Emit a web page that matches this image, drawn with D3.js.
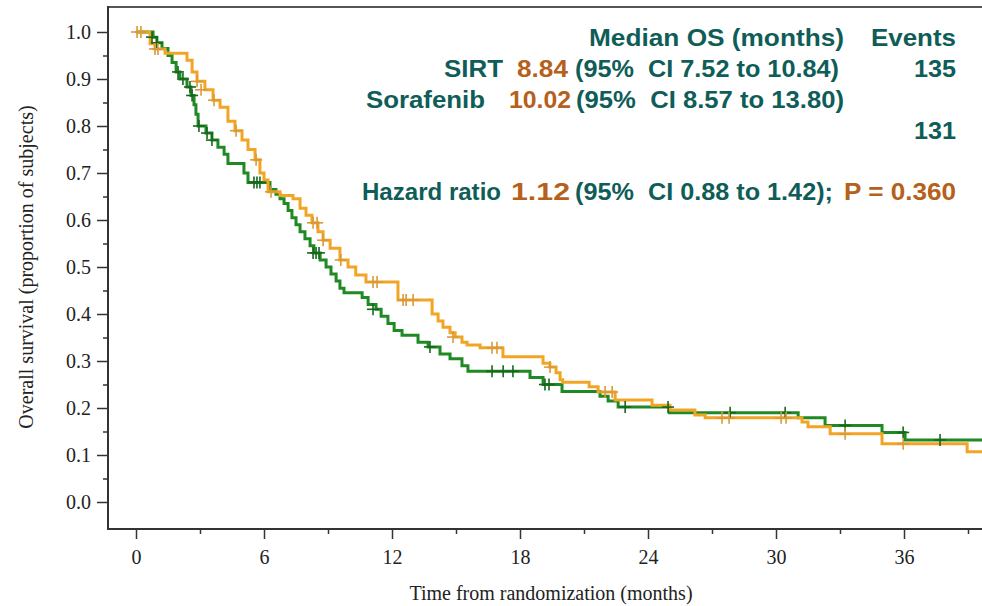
<!DOCTYPE html>
<html>
<head>
<meta charset="utf-8">
<script src="https://cdn.jsdelivr.net/npm/d3@7"></script>
<style>
  html, body { margin: 0; padding: 0; background: #fff; }
  svg { display: block; }
</style>
</head>
<body>
<svg id="chart" width="982" height="606"></svg>
<script>
// ---------------- DATA ----------------
const xMajorTicks = [0, 6, 12, 18, 24, 30, 36];
const xMinorTicks = [3, 9, 15, 21, 27, 33, 39];
const yMajorTicks = [0, 0.1, 0.2, 0.3, 0.4, 0.5, 0.6, 0.7, 0.8, 0.9, 1.0];
const yMinorTicks = [0.05, 0.15, 0.25, 0.35, 0.45, 0.55, 0.65, 0.75, 0.85, 0.95];
const xTitle = "Time from randomization (months)";
const yTitle = "Overall survival (proportion of subjects)";
const maxTime = 39.7;

// Sorafenib (orange) step curve: time (months), survival after the step
const sorafenibTime = [0, 0.66, 0.89, 1.36, 2.39, 2.63, 2.86, 3.23, 3.61, 3.94, 4.31, 4.64, 4.97, 5.25, 5.58, 5.81, 6.0, 6.19,
  6.75, 7.36, 7.69, 7.97, 8.25, 8.53, 8.77, 9.1, 9.56, 9.94, 10.3, 10.78, 12.28, 13.88, 14.16, 14.39, 14.72, 14.96,
  15.28, 15.52, 16.13, 17.2, 19.08, 19.4, 19.69, 19.88, 20.0, 21.24, 21.66, 22.46, 24.19, 25.03, 26.2, 26.68,
  31.22, 31.5, 32.54, 34.97, 38.96];
const sorafenibSurv = [1.0, 0.975, 0.964, 0.955, 0.94, 0.915, 0.895, 0.877, 0.855, 0.84, 0.81, 0.79, 0.77, 0.75, 0.728, 0.70, 0.685, 0.66,
  0.652, 0.645, 0.625, 0.61, 0.594, 0.575, 0.557, 0.54, 0.515, 0.5, 0.483, 0.468, 0.43, 0.40, 0.385, 0.372, 0.36, 0.351,
  0.34, 0.334, 0.328, 0.309, 0.295, 0.287, 0.275, 0.26, 0.255, 0.245, 0.234, 0.217, 0.206, 0.196, 0.185, 0.179,
  0.17, 0.16, 0.145, 0.124, 0.107];
const sorafenibCensorTime = [0.05, 0.23, 0.89, 1.03, 2.86, 3.05, 3.66, 4.69, 5.63, 6.33, 8.3, 8.49, 8.77, 9.6, 11.11, 11.3,
  12.52, 12.66, 12.99, 14.86, 16.69, 16.92, 19.41, 21.99, 22.32, 27.47, 27.8, 30.24, 30.47, 33.24, 35.96];
const sorafenibCensorSurv = [1.0, 1.0, 0.964, 0.964, 0.895, 0.877, 0.855, 0.79, 0.728, 0.66, 0.594, 0.594, 0.557, 0.515, 0.468, 0.468,
  0.43, 0.43, 0.43, 0.351, 0.328, 0.328, 0.287, 0.234, 0.234, 0.179, 0.179, 0.179, 0.179, 0.145, 0.124];

// SIRT (green) step curve
const sirtTime = [0, 0.8, 0.98, 1.22, 1.5, 1.69, 1.88, 2.06, 2.39, 2.58, 2.72, 2.81, 2.91, 3.28, 3.56, 3.84, 4.13, 4.31,
  5.06, 5.25, 6.28, 6.56, 6.75, 6.94, 7.13, 7.31, 7.5, 7.69, 7.92, 8.16, 8.34, 8.63, 8.91, 9.14, 9.38, 9.56, 9.75,
  10.6, 10.88, 11.25, 11.49, 11.81, 12.1, 12.47, 13.22, 13.69, 14.25, 14.72, 15.28, 15.56, 18.47, 19.08, 19.97,
  21.75, 22.13, 22.6, 25.0, 31.04, 32.3, 34.97, 36.05];
const sirtSurv = [1.0, 0.989, 0.977, 0.965, 0.95, 0.935, 0.915, 0.9, 0.883, 0.865, 0.845, 0.825, 0.80, 0.785, 0.77, 0.755, 0.74, 0.72,
  0.70, 0.68, 0.665, 0.655, 0.645, 0.635, 0.62, 0.605, 0.59, 0.575, 0.56, 0.545, 0.53, 0.515, 0.5, 0.485, 0.47, 0.455, 0.445,
  0.435, 0.42, 0.41, 0.395, 0.38, 0.365, 0.355, 0.34, 0.33, 0.315, 0.305, 0.29, 0.278, 0.265, 0.25, 0.235,
  0.225, 0.215, 0.202, 0.19, 0.179, 0.163, 0.148, 0.132];
const sirtCensorTime = [0.75, 0.98, 1.97, 2.2, 2.53, 2.63, 2.95, 3.33, 3.56, 5.53, 5.67, 5.81, 8.3, 8.44, 8.58, 11.11, 13.78,
  16.69, 17.21, 17.67, 19.17, 19.36, 22.93, 24.94, 27.85, 30.43, 33.24, 35.96, 37.69];
const sirtCensorSurv = [0.989, 0.977, 0.915, 0.9, 0.883, 0.865, 0.80, 0.785, 0.77, 0.68, 0.68, 0.68, 0.53, 0.53, 0.53, 0.41, 0.33,
  0.278, 0.278, 0.278, 0.25, 0.25, 0.202, 0.202, 0.19, 0.19, 0.163, 0.148, 0.132];

// Annotation text
const headerMedian = "Median OS (months)";
const headerEvents = "Events";
const groupNames = ["SIRT", "Sorafenib"];
const groupMedians = ["8.84", "10.02"];
const groupCIs = ["(95%\u00a0 CI 7.52 to 10.84)", "(95%\u00a0 CI 8.57 to 13.80)"];
const groupEvents = ["135", "131"];
const hrLabel = "Hazard ratio";
const hrValue = "1.12";
const hrCI = "(95%\u00a0 CI 0.88 to 1.42);";
const pValue = "P = 0.360";

// ---------------- DRAW ----------------
const svg = d3.select("#chart");
const W = 982, H = 606;
const plotLeft = 108, plotTop = 7, plotBottom = 529;

const x = d3.scaleLinear().domain([0, 36]).range([136, 904]);
const y = d3.scaleLinear().domain([0, 1]).range([502, 32]);

const teal = "#0f5d58", brown = "#b5611c";
const orange = "#f2a524", orangeC = "#d99a38";
const green = "#1f8a24", greenC = "#16671c";
const axisCol = "#333";

// frame: top line and axes
svg.append("line").attr("x1", plotLeft).attr("x2", W).attr("y1", plotTop).attr("y2", plotTop)
  .attr("stroke", "#555").attr("stroke-width", 2);

// Y axis
const yAxisG = svg.append("g").attr("transform", `translate(${plotLeft},0)`)
  .call(d3.axisLeft(y).tickValues(yMajorTicks).tickFormat(d3.format(".1f")).tickSize(11).tickPadding(6));
yAxisG.select(".domain").remove();
yAxisG.selectAll(".tick line").attr("stroke", axisCol).attr("stroke-width", 1.5);
yAxisG.selectAll(".tick text").attr("font-family", "'Liberation Serif', 'Times New Roman', serif")
  .attr("font-size", 20).attr("fill", "#222");
const yMinorG = svg.append("g").attr("transform", `translate(${plotLeft},0)`)
  .call(d3.axisLeft(y).tickValues(yMinorTicks).tickFormat("").tickSize(5));
yMinorG.select(".domain").remove();
yMinorG.selectAll(".tick line").attr("stroke", axisCol).attr("stroke-width", 1.5);
svg.append("line").attr("x1", plotLeft).attr("x2", plotLeft).attr("y1", plotTop - 1).attr("y2", plotBottom + 1)
  .attr("stroke", axisCol).attr("stroke-width", 2);

// X axis
const xAxisG = svg.append("g").attr("transform", `translate(0,${plotBottom})`)
  .call(d3.axisBottom(x).tickValues(xMajorTicks).tickFormat(d3.format("d")).tickSize(10).tickPadding(11));
xAxisG.select(".domain").remove();
xAxisG.selectAll(".tick line").attr("stroke", axisCol).attr("stroke-width", 1.5);
xAxisG.selectAll(".tick text").attr("font-family", "'Liberation Serif', 'Times New Roman', serif")
  .attr("font-size", 20).attr("fill", "#222");
const xMinorG = svg.append("g").attr("transform", `translate(0,${plotBottom})`)
  .call(d3.axisBottom(x).tickValues(xMinorTicks).tickFormat("").tickSize(5));
xMinorG.select(".domain").remove();
xMinorG.selectAll(".tick line").attr("stroke", axisCol).attr("stroke-width", 1.5);
svg.append("line").attr("x1", plotLeft - 1).attr("x2", W).attr("y1", plotBottom).attr("y2", plotBottom)
  .attr("stroke", axisCol).attr("stroke-width", 2);

// axis titles
svg.append("text").attr("x", 551).attr("y", 600).attr("text-anchor", "middle")
  .attr("font-family", "'Liberation Serif', 'Times New Roman', serif").attr("font-size", 20).attr("fill", "#222")
  .text(xTitle);
svg.append("text").attr("transform", "translate(33,267) rotate(-90)").attr("text-anchor", "middle")
  .attr("font-family", "'Liberation Serif', 'Times New Roman', serif").attr("font-size", 20).attr("fill", "#222")
  .text(yTitle);

// curves
svg.append("clipPath").attr("id", "plotclip").append("rect")
  .attr("x", plotLeft + 1).attr("y", plotTop + 1).attr("width", W - plotLeft).attr("height", plotBottom - plotTop - 2);
const plot = svg.append("g").attr("clip-path", "url(#plotclip)");

const line = d3.line().x(d => x(d[0])).y(d => y(d[1])).curve(d3.curveStepAfter);
function series(times, surv) {
  const pts = times.map((t, i) => [t, surv[i]]);
  pts.push([maxTime, surv[surv.length - 1]]);
  return pts;
}
function drawCurve(times, surv, col) {
  plot.append("path").datum(series(times, surv)).attr("d", line)
    .attr("fill", "none").attr("stroke", col).attr("stroke-width", 3).attr("stroke-linejoin", "miter");
}
function drawCensors(times, surv, col) {
  const g = plot.append("g").attr("stroke", col).attr("stroke-width", 1.6);
  times.forEach((t, i) => {
    const cx = x(t), cy = y(surv[i]);
    g.append("line").attr("x1", cx - 6).attr("x2", cx + 6).attr("y1", cy).attr("y2", cy);
    g.append("line").attr("x1", cx).attr("x2", cx).attr("y1", cy - 6).attr("y2", cy + 6);
  });
}
drawCurve(sirtTime, sirtSurv, green);
drawCurve(sorafenibTime, sorafenibSurv, orange);
drawCensors(sirtCensorTime, sirtCensorSurv, greenC);
drawCensors(sorafenibCensorTime, sorafenibCensorSurv, orangeC);

// annotation block
const ann = svg.append("g").attr("font-family", "'Liberation Sans', Arial, sans-serif")
  .attr("font-weight", "bold").attr("font-size", 24);
function seg(str, x0, x1, yb, col) {
  ann.append("text").attr("x", x0 - 1).attr("y", yb).attr("fill", col)
    .attr("textLength", x1 - x0 + 2).attr("lengthAdjust", "spacingAndGlyphs").text(str);
}
seg(headerMedian, 590, 843, 46, teal);
seg(headerEvents, 872, 955, 46, teal);
seg(groupNames[0], 445, 502, 77, teal);
seg(groupMedians[0], 518, 567, 77, brown);
seg(groupCIs[0], 576, 838, 77, teal);
seg(groupEvents[0], 915, 955, 77, teal);
seg(groupNames[1], 367, 484, 108, teal);
seg(groupMedians[1], 510, 570, 108, brown);
seg(groupCIs[1], 577, 843, 108, teal);
seg(groupEvents[1], 915, 955, 139, teal);
seg(hrLabel, 363, 500, 200, teal);
seg(hrValue, 512, 569, 200, brown);
seg(hrCI, 576, 832, 200, teal);
seg(pValue, 845, 955, 200, brown);
</script>
</body>
</html>
